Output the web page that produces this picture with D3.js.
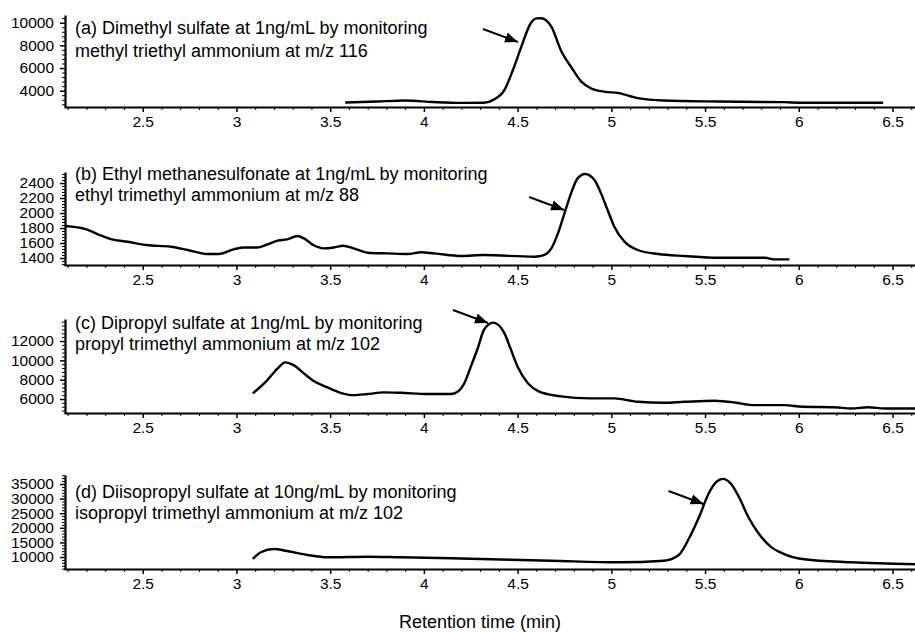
<!DOCTYPE html>
<html>
<head>
<meta charset="utf-8">
<script src="https://cdn.jsdelivr.net/npm/d3@7"></script>
<style>
body { margin: 0; background: #fff; }
svg text { font-family: "Liberation Sans", Arial, sans-serif; fill: #000; }
</style>
</head>
<body>
<div id="chart"></div>
<script>
// chromatogram traces (time in min, intensity in counts)
const timeA = [3.58, 3.75, 3.9, 4.05, 4.2, 4.32, 4.37, 4.43, 4.475, 4.52, 4.57, 4.60, 4.625, 4.68, 4.73, 4.79, 4.84, 4.89, 4.96, 5.04, 5.14, 5.28, 5.57, 5.92, 6.02, 6.28, 6.45];
const signalA = [2950, 3040, 3130, 3000, 2925, 2930, 3190, 4070, 5830, 7890, 9950, 10380, 10390, 9650, 7600, 5980, 4800, 4220, 3920, 3780, 3340, 3130, 3040, 2990, 2930, 2930, 2930];

const timeB = [2.085, 2.2, 2.27, 2.33, 2.42, 2.52, 2.65, 2.74, 2.845, 2.9, 2.985, 3.04, 3.11, 3.165, 3.22, 3.27, 3.325, 3.36, 3.41, 3.465, 3.52, 3.57, 3.625, 3.7, 3.805, 3.915, 3.985, 4.055, 4.2, 4.32, 4.59, 4.64, 4.68, 4.715, 4.75, 4.785, 4.82, 4.86, 4.91, 4.945, 4.98, 5.016, 5.07, 5.14, 5.25, 5.39, 5.57, 5.75, 5.82, 5.87, 5.95];
const signalB = [1827, 1783, 1707, 1653, 1617, 1573, 1551, 1507, 1453, 1453, 1515, 1541, 1541, 1582, 1631, 1649, 1693, 1662, 1573, 1529, 1541, 1564, 1529, 1471, 1462, 1453, 1476, 1462, 1427, 1440, 1418, 1440, 1529, 1729, 1996, 2262, 2462, 2520, 2440, 2262, 2040, 1818, 1618, 1507, 1453, 1427, 1404, 1404, 1404, 1382, 1382];

const timeC = [3.087, 3.165, 3.22, 3.26, 3.305, 3.36, 3.41, 3.485, 3.555, 3.625, 3.7, 3.785, 3.875, 4.02, 4.144, 4.18, 4.215, 4.25, 4.29, 4.32, 4.37, 4.43, 4.465, 4.5, 4.556, 4.61, 4.72, 4.89, 5.015, 5.14, 5.28, 5.39, 5.55, 5.66, 5.75, 5.925, 6.02, 6.19, 6.28, 6.37, 6.46, 6.62];
const signalC = [6580, 7960, 9170, 9790, 9510, 8650, 7890, 7200, 6640, 6400, 6510, 6680, 6640, 6510, 6510, 6750, 7610, 9340, 11410, 13140, 13900, 12790, 11070, 9340, 7610, 6820, 6300, 6060, 6060, 5710, 5610, 5710, 5820, 5640, 5370, 5370, 5190, 5150, 5020, 5150, 5020, 5020];

const timeD = [3.087, 3.13, 3.2, 3.27, 3.38, 3.485, 3.7, 3.875, 4.144, 4.68, 5.04, 5.28, 5.36, 5.41, 5.465, 5.52, 5.56, 5.595, 5.635, 5.68, 5.73, 5.785, 5.85, 5.925, 6.03, 6.28, 6.62];
const signalD = [9315, 11610, 12740, 12050, 10680, 9900, 10100, 9900, 9560, 8730, 8180, 8730, 10680, 15820, 23250, 31820, 35700, 36750, 35300, 30650, 23800, 18120, 13530, 10920, 9210, 8180, 7500];

const titles = [
    ["(a) Dimethyl sulfate at 1ng/mL by monitoring", "methyl triethyl ammonium at m/z 116"],
    ["(b) Ethyl methanesulfonate at 1ng/mL by monitoring", "ethyl trimethyl ammonium at m/z 88"],
    ["(c) Dipropyl sulfate at 1ng/mL by monitoring", "propyl trimethyl ammonium at m/z 102"],
    ["(d) Diisopropyl sulfate at 10ng/mL by monitoring", "isopropyl trimethyl ammonium at m/z 102"]
];

// y tick labels for each panel
const yTicksA = [4000, 6000, 8000, 10000];
const yTicksB = [1400, 1600, 1800, 2000, 2200, 2400];
const yTicksC = [6000, 8000, 10000, 12000];
const yTicksD = [10000, 15000, 20000, 25000, 30000, 35000];

const xTicks = [2.5, 3, 3.5, 4, 4.5, 5, 5.5, 6, 6.5];

// arrow tips pointing at the analyte peak (time, intensity)
const arrowTips = [[4.502, 8300], [4.748, 2040], [4.342, 13865], [5.492, 28150]];

const width = 915, height = 632;

let svg = d3.select("#chart").append("svg")
    .attr("width", width)
    .attr("height", height);

svg.append("defs").append("marker")
    .attr("id", "head")
    .attr("viewBox", "0 0 10 10")
    .attr("refX", 10)
    .attr("refY", 5)
    .attr("markerUnits", "userSpaceOnUse")
    .attr("markerWidth", 13)
    .attr("markerHeight", 13)
    .attr("orient", "auto")
    .append("path")
    .attr("d", "M0,1L10,5L0,9Z")
    .attr("fill", "#000");

let x = d3.scaleLinear().domain([2.08, 6.62]).range([64, 915]);

// panel layout: pixel box, value domain, minor step, title baseline
let panels = [
    {t: timeA, s: signalA, ticks: yTicksA, dom: [2560, 10680], top: 15, bottom: 107, minor: 400, titleY: 34, lineGap: 23},
    {t: timeB, s: signalB, ticks: yTicksB, dom: [1307, 2547], top: 172, bottom: 265, minor: 40, titleY: 180, lineGap: 21},
    {t: timeC, s: signalC, ticks: yTicksC, dom: [4550, 14280], top: 319, bottom: 413, minor: 400, titleY: 329, lineGap: 21},
    {t: timeD, s: signalD, ticks: yTicksD, dom: [5890, 38080], top: 475, bottom: 569, minor: 1000, titleY: 498, lineGap: 21}
];

panels.forEach((p, i) => {
    let y = d3.scaleLinear().domain(p.dom).range([p.bottom, p.top]);
    let g = svg.append("g");

    // x axis: minor every 0.1, major every 0.5
    let minorX = d3.range(21, 67).map(v => v / 10).filter(v => !xTicks.some(m => Math.abs(m - v) < 1e-6));
    g.append("g")
        .attr("transform", `translate(0,${p.bottom})`)
        .call(d3.axisBottom(x).tickValues(minorX).tickSize(3).tickFormat(""))
        .call(a => a.select(".domain").remove());
    g.append("g")
        .attr("transform", `translate(0,${p.bottom})`)
        .call(d3.axisBottom(x).tickValues(xTicks).tickSize(5).tickSizeOuter(0).tickPadding(4).tickFormat(d3.format("")))
        .call(a => a.select(".domain").attr("stroke-width", 2.2))
        .call(a => a.selectAll(".tick line").attr("stroke-width", 1.5))
        .call(a => a.selectAll("text").style("font-size", "15.5px").style("font-family", "Liberation Sans, Arial"));

    // y axis
    let lo = Math.ceil(p.dom[0] / p.minor) * p.minor;
    let minorY = d3.range(lo, p.dom[1], p.minor).filter(v => !p.ticks.includes(v));
    g.append("g")
        .attr("transform", `translate(65,0)`)
        .call(d3.axisLeft(y).tickValues(minorY).tickSize(3).tickFormat(""))
        .call(a => a.select(".domain").remove());
    g.append("g")
        .attr("transform", `translate(65,0)`)
        .call(d3.axisLeft(y).tickValues(p.ticks).tickSize(5).tickSizeOuter(0).tickPadding(6).tickFormat(d3.format("d")))
        .call(a => a.select(".domain").attr("stroke-width", 2.2))
        .call(a => a.selectAll(".tick line").attr("stroke-width", 1.5))
        .call(a => a.selectAll("text").style("font-size", "15.5px").style("font-family", "Liberation Sans, Arial"));

    // trace
    let pts = p.t.map((t, k) => [t, p.s[k]]);
    g.append("path")
        .datum(pts)
        .attr("fill", "none")
        .attr("stroke", "#000")
        .attr("stroke-width", 2.4)
        .attr("stroke-linejoin", "round")
        .attr("d", d3.line().x(d => x(d[0])).y(d => y(d[1])).curve(d3.curveMonotoneX));

    // panel caption
    let title = g.append("text")
        .attr("x", 75)
        .attr("y", p.titleY)
        .style("font-size", "18px");
    title.selectAll("tspan")
        .data(titles[i])
        .enter()
        .append("tspan")
        .attr("x", 75)
        .attr("dy", (d, k) => k === 0 ? 0 : p.lineGap)
        .text(d => d);

    // arrow towards the peak
    let tip = arrowTips[i];
    let tx = x(tip[0]), ty = y(tip[1]);
    g.append("line")
        .attr("x1", tx - 35).attr("y1", ty - 13)
        .attr("x2", tx).attr("y2", ty)
        .attr("stroke", "#000")
        .attr("stroke-width", 2)
        .attr("marker-end", "url(#head)");
});

svg.append("text")
    .attr("x", 480)
    .attr("y", 628)
    .attr("text-anchor", "middle")
    .style("font-size", "18px")
    .text("Retention time (min)");
</script>
</body>
</html>
